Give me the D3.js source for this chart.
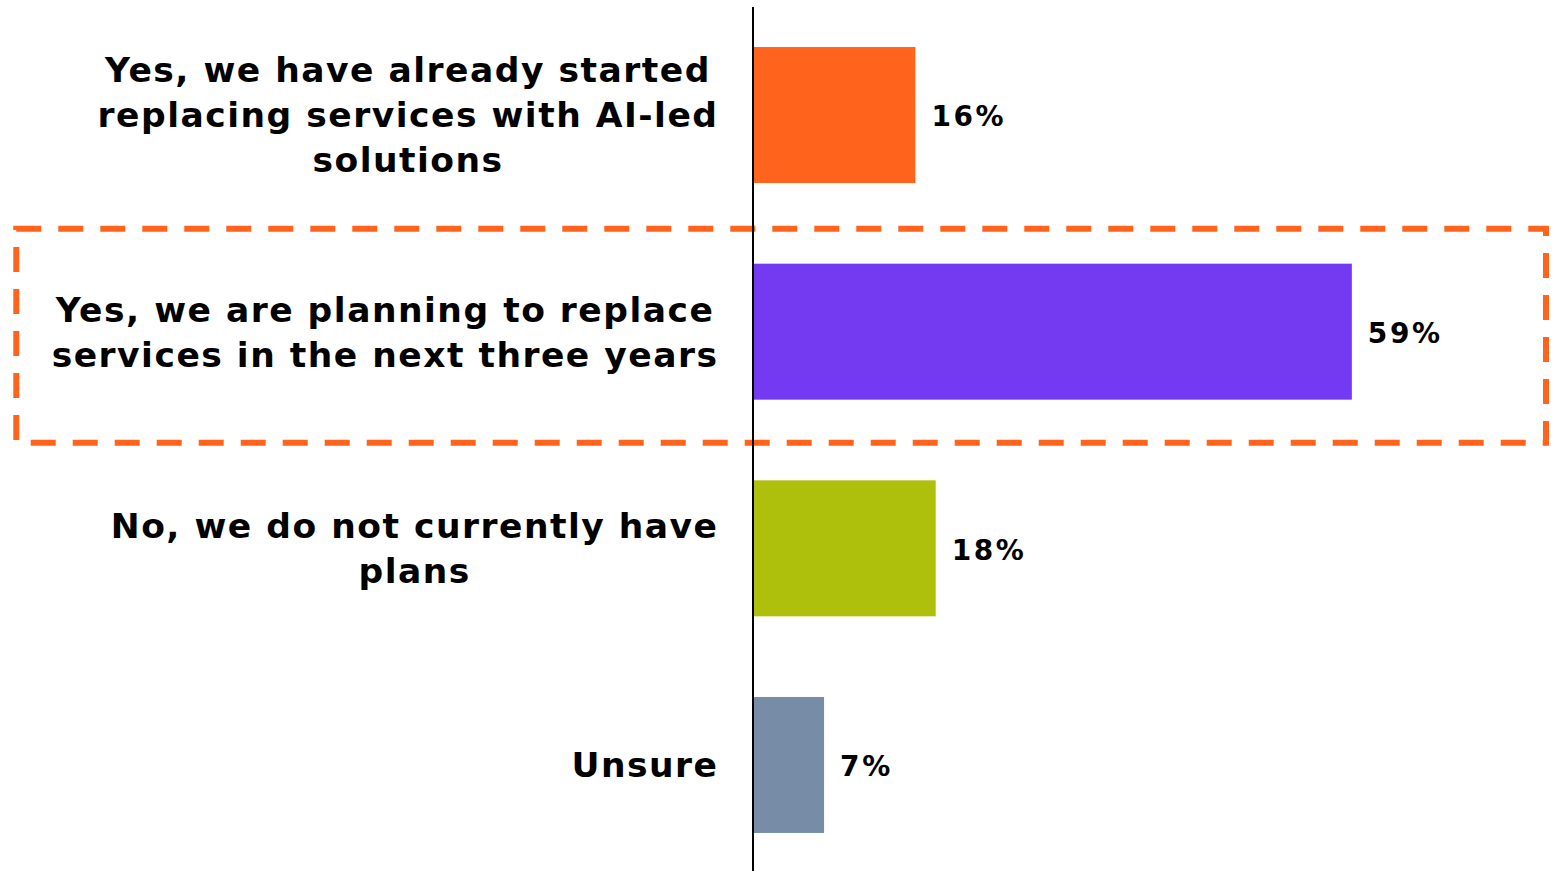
<!DOCTYPE html>
<html>
<head>
<meta charset="utf-8">
<script src="https://cdn.jsdelivr.net/npm/d3@7"></script>
<style>
html,body{margin:0;padding:0;background:#fff;}
svg{display:block;}
text{font-family:"DejaVu Sans",Verdana,sans-serif;font-weight:bold;fill:#000;}
</style>
</head>
<body>
<svg id="chart" width="1562" height="871"></svg>
<script>
const categories = [
  ["Yes, we have already started", "replacing services with AI-led", "solutions"],
  ["Yes, we are planning to replace", "services in the next three years"],
  ["No, we do not currently have", "plans"],
  ["Unsure"]
];
const values = [16, 59, 18, 7];
const colors = ["#FF631C", "#743AF2", "#AEC00C", "#778CA7"];
const highlighted = 1;

const W = 1562, H = 871;
const svg = d3.select("#chart");
const axisX = 753;
const ids = categories.map((d, i) => i);

const x = d3.scaleLinear().domain([0, 80]).range([axisX, axisX + 812]);
const y = d3.scaleBand().domain(ids).range([6.7, 873.3]).paddingInner(0.3723).paddingOuter(0.18615);

// highlight dashed box
const hb = y(highlighted);
svg.append("rect")
  .attr("x", 16.3).attr("y", hb - 35)
  .attr("width", 1546 - 16.3).attr("height", 214)
  .attr("fill", "none").attr("stroke", "#FF631C")
  .attr("stroke-width", 6).attr("stroke-dasharray", "25,17");

// bars
svg.selectAll("rect.bar").data(values).join("rect")
  .attr("class", "bar")
  .attr("x", x(0))
  .attr("y", (d, i) => y(i))
  .attr("width", d => x(d) - x(0))
  .attr("height", y.bandwidth())
  .attr("fill", (d, i) => colors[i]);

// axis line
svg.append("line").attr("x1", axisX).attr("x2", axisX).attr("y1", 7).attr("y2", 871)
  .attr("stroke", "#000").attr("stroke-width", 2);

// value labels
svg.selectAll("text.val").data(values).join("text")
  .attr("class", "val")
  .attr("x", d => x(d) + 16)
  .attr("y", (d, i) => y(i) + y.bandwidth() / 2)
  .attr("dy", "0.4em")
  .attr("font-size", 28)
  .attr("letter-spacing", 2.6)
  .text(d => d + "%");

// category labels: block right-aligned at 717, lines centered within block
const lineH = 45;
const labelRight = 717;
categories.forEach((lines, i) => {
  const g = svg.append("g");
  const cy = y(i) + y.bandwidth() / 2;
  const texts = lines.map((ln, j) => g.append("text")
    .attr("font-size", 34.5)
    .attr("letter-spacing", 1.5)
    .attr("text-anchor", "middle")
    .attr("y", cy + (j - (lines.length - 1) / 2) * lineH)
    .attr("dy", "0.36em")
    .text(ln));
  const maxW = d3.max(texts, t => t.node().getComputedTextLength());
  texts.forEach(t => t.attr("x", labelRight + 1.5 - maxW / 2));
});
</script>
</body>
</html>
